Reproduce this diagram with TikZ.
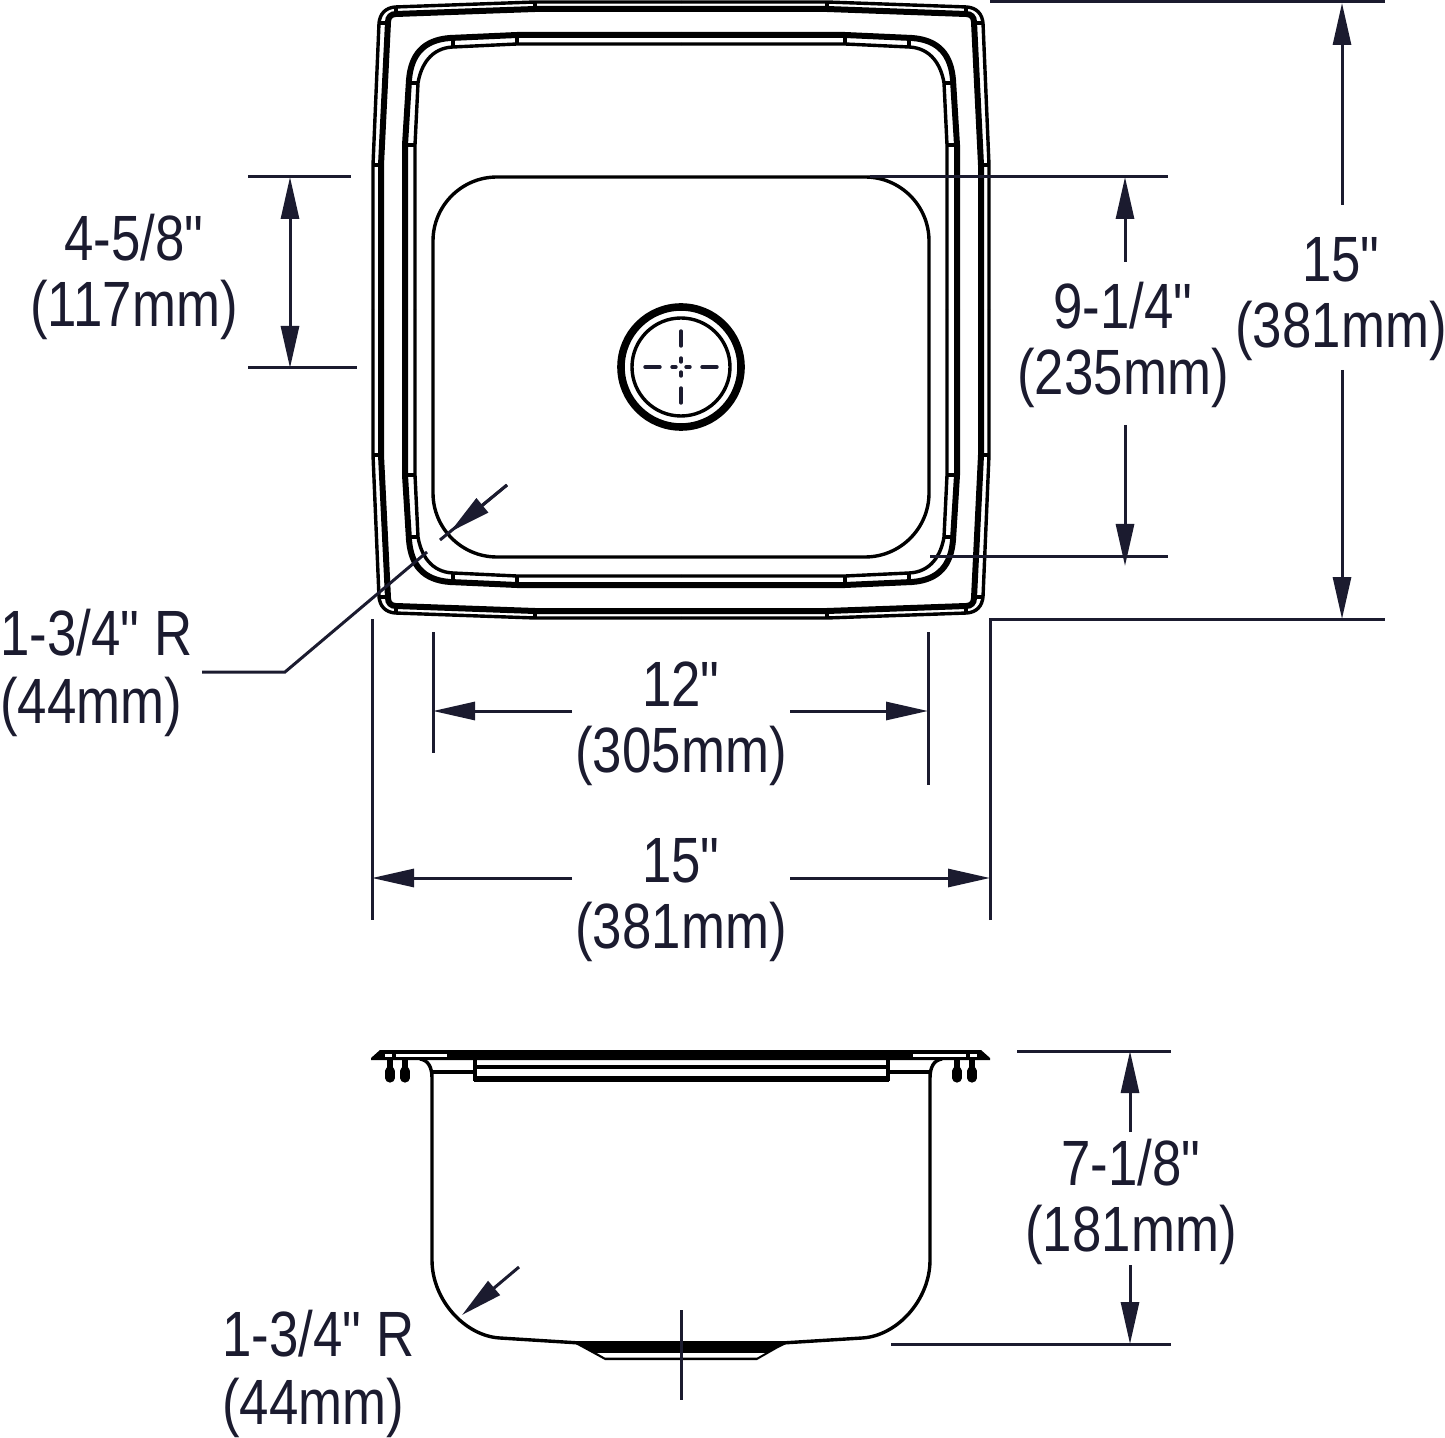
\documentclass[tikz,border=0pt]{standalone}
\usepackage{fontspec}
\newfontfamily\dimfont[FakeStretch=0.825]{Liberation Sans}
\usetikzlibrary{positioning,arrows.meta}
\definecolor{dimink}{HTML}{1B1B2F}
\tikzset{
	dimtext/.style={draw=none,text=dimink,inner sep=0pt,align=center,font=\dimfont\fontsize{32}{33}\selectfont},
	dimside/.style={draw=none,text=dimink,inner sep=0pt,align=left,font=\dimfont\fontsize{32}{34}\selectfont},
	dimline/.style={draw=dimink,line width=1.5pt},
	dimarrow/.style={-{Triangle[length=21pt,width=9pt]},draw=dimink,fill=dimink,line width=1.5pt},
	rimthin/.style={draw=black,line width=1.7pt},
	rimthick/.style={draw=black,line width=3pt},
	bowlline/.style={draw=black,line width=1.7pt},
	clipneck/.style={draw=black,line width=2.6pt},
	clipblob/.style={draw=black,line width=4.6pt,line cap=round},
	drainmark/.style={draw=dimink,line width=1.7pt,line cap=round}
}

\begin{document}
\begin{tikzpicture}[x=0.5pt,y=-0.5pt]
	\useasboundingbox (0,0) rectangle (1445,1438);

	% top view, one corner mirrored four times
	\foreach \sx in {1,-1}{
		\foreach \sy in {1,-1}{
			\begin{scope}[shift={(681,310)},xscale=\sx,yscale=\sy]
				\draw[rimthin] (0,-308) -- (-146,-308) -- (-286,-303) .. controls (-296,-302) and (-301,-296) .. (-302,-287) -- (-308,-145) -- (-308,0);
				\draw[rimthick] (0,-301) -- (-146,-301) -- (-285,-296) .. controls (-290,-296) and (-293,-293) .. (-293,-288) -- (-300,-145) -- (-300,0);
				\draw[rimthin] (-146,-308) -- (-146,-301);
				\draw[rimthin] (-308,-145) -- (-300,-145);
				\draw[rimthin] (-285,-303) -- (-285,-296);
				\draw[rimthin] (-302,-287) -- (-293,-287);
				\draw[rimthick] (0,-275) -- (-164,-275) -- (-231,-272) .. controls (-258,-270) and (-270,-255) .. (-272,-230) -- (-276,-165) -- (-276,0);
				\draw[bowlline] (0,-266) -- (-164,-266) -- (-228,-263) .. controls (-250,-262) and (-260,-245) .. (-263,-227) -- (-266,-165) -- (-266,0);
				\draw[rimthin] (-164,-275) -- (-164,-266);
				\draw[rimthin] (-228,-272) -- (-228,-263);
				\draw[rimthin] (-272,-227) -- (-263,-227);
				\draw[rimthin] (-276,-165) -- (-266,-165);
			\end{scope}
		}
	}
	\draw[bowlline,rounded corners=32pt] (433,177) rectangle (929,557);

	% drain
	\coordinate (drain) at (681,367);
	\draw[black,line width=3.8pt] (drain) circle (60);
	\draw[black,line width=1.7pt] (drain) circle (49);
	\foreach \a in {0,90,180,270}{
		\draw[drainmark,shift={(drain)},rotate=\a] (21,0) -- (36,0);
		\draw[drainmark,shift={(drain)},rotate=\a] (5,0) -- (9,0);
	}

	% side view
	\fill[black] (371,1058) -- (380,1050) -- (981,1050) -- (990,1058) -- (990,1060) -- (371,1060) -- cycle;
	\fill[white] (385,1054) rectangle (392,1056.5);
	\fill[white] (396,1054) rectangle (447,1056.5);
	\fill[white] (913,1054) rectangle (966,1056.5);
	\fill[white] (970,1054) rectangle (977,1056.5);
	\draw[bowlline] (420,1059) .. controls (428,1060) and (432,1067) .. (432,1078) -- (432,1260) .. controls (432,1300) and (465,1336) .. (500,1338) -- (580,1343) -- (782,1343) -- (862,1338) .. controls (897,1336) and (930,1300) .. (930,1260) -- (930,1078) .. controls (930,1067) and (934,1060) .. (942,1059);
	\draw[bowlline] (432,1072) -- (475,1072);
	\draw[bowlline] (888,1072) -- (930,1072);
	\draw[bowlline] (475,1059) -- (475,1081);
	\draw[bowlline] (888,1059) -- (888,1081);
	\draw[black,line width=2pt] (475,1067) -- (888,1067);
	\draw[black,line width=3.2pt] (474,1079) -- (889,1079);
	\foreach \cx in {390,405,957,972}{
		\draw[clipneck] (\cx,1058) -- (\cx,1068);
		\draw[clipblob] (\cx,1071) -- (\cx,1078);
	}
	\fill[black] (570,1341) -- (792,1341) -- (778,1348) -- (757,1360) -- (605,1360) -- (583,1348) -- cycle;
	\fill[white] (597,1353) -- (765,1353) -- (757,1357.5) -- (605,1357.5) -- cycle;

	% extension lines
	\coordinate (rimtop) at (990,1.5);
	\coordinate (rimtopend) at (1385,1.5);
	\coordinate (rimbot) at (990,619);
	\coordinate (rimbotend) at (1385,619);
	\coordinate (rimbotleft) at (372,619);
	\coordinate (widthright) at (990,920);
	\coordinate (widthleft) at (372,920);
	\draw[dimline] (rimtop) -- (rimtopend);
	\draw[dimline] (widthright) -- (rimbot) -- (rimbotend);
	\draw[dimline] (rimbotleft) -- (widthleft);
	\coordinate (bowltop) at (870,177);
	\coordinate (bowltopend) at (1168,177);
	\coordinate (bowlbot) at (930,557);
	\coordinate (bowlbotend) at (1168,557);
	\draw[dimline] (bowltop) -- (bowltopend);
	\draw[dimline] (bowlbot) -- (bowlbotend);
	\coordinate (offa) at (248,177);
	\coordinate (offaend) at (351,177);
	\coordinate (offb) at (248,368);
	\coordinate (offbend) at (357,368);
	\draw[dimline] (offa) -- (offaend);
	\draw[dimline] (offb) -- (offbend);
	\coordinate (innera) at (433,632);
	\coordinate (inneraend) at (433,753);
	\coordinate (innerb) at (928,632);
	\coordinate (innerbend) at (928,785);
	\draw[dimline] (innera) -- (inneraend);
	\draw[dimline] (innerb) -- (innerbend);
	\coordinate (sidetop) at (1017,1051);
	\coordinate (sidetopend) at (1171,1051);
	\coordinate (sidebot) at (891,1344);
	\coordinate (sidebotend) at (1171,1344);
	\draw[dimline] (sidetop) -- (sidetopend);
	\draw[dimline] (sidebot) -- (sidebotend);
	\coordinate (sidecenter) at (681,1310);
	\coordinate (sidecenterend) at (681,1400);
	\draw[dimline] (sidecenter) -- (sidecenterend);

	% dimension texts
	\node[dimtext](heighttext) at (1341,299){15"\\(381mm)};
	\node[dimtext](bowldepth) at (1123,345){9-1/4"\\(235mm)};
	\node[dimtext](offset) at (134,277){4-5/8"\\(117mm)};
	\node[dimtext](innerwidth) at (681,724){12"\\(305mm)};
	\node[dimtext](outerwidth) at (681,900){15"\\(381mm)};
	\node[dimtext](sinkdepth) at (1131,1202){7-1/8"\\(181mm)};
	\node[dimside,anchor=west](radiustop) at (0,673){1-3/4" R\\(44mm)};
	\node[dimside,anchor=west](radiusside) at (222,1374){1-3/4" R\\(44mm)};

	% dimension arrows
	\coordinate (ha) at (1342,205);
	\coordinate (hb) at (1342,370);
	\draw[dimarrow] (ha) -- (1342,3);
	\draw[dimarrow] (hb) -- (1342,619);
	\coordinate (ba) at (1125,262);
	\coordinate (bb) at (1125,425);
	\draw[dimarrow] (ba) -- (1125,177);
	\draw[dimarrow] (bb) -- (1125,566);
	\coordinate (oa) at (290,272);
	\draw[dimarrow] (oa) -- (290,177);
	\draw[dimarrow] (oa) -- (290,368);
	\coordinate (ia) at (572,711);
	\coordinate (ib) at (790,711);
	\draw[dimarrow] (ia) -- (433,711);
	\draw[dimarrow] (ib) -- (928,711);
	\coordinate (wa) at (572,878);
	\coordinate (wb) at (790,878);
	\draw[dimarrow] (wa) -- (372,878);
	\draw[dimarrow] (wb) -- (990,878);
	\coordinate (sa) at (1130,1132);
	\coordinate (sb) at (1130,1265);
	\draw[dimarrow] (sa) -- (1130,1051);
	\draw[dimarrow] (sb) -- (1130,1344);

	% radius leaders
	\coordinate (leadstart) at (202,672);
	\coordinate (leadbend) at (285,672);
	\coordinate (leadend) at (427,552);
	\draw[dimline] (leadstart) -- (leadbend) -- (leadend);
	\coordinate (radtail) at (507,485);
	\coordinate (radtip) at (450,532);
	\coordinate (radend) at (440,540);
	\draw[dimline] (radtail) -- (radend);
	\draw[dimarrow] (radtail) -- (radtip);
	\coordinate (sidetail) at (519,1267);
	\coordinate (sidetip) at (462,1315);
	\draw[dimarrow] (sidetail) -- (sidetip);
\end{tikzpicture}
\end{document}
